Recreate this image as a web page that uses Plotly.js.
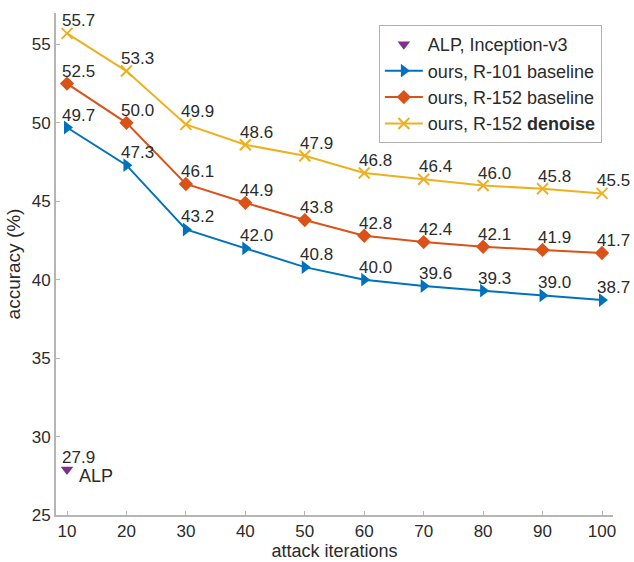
<!DOCTYPE html>
<html><head><meta charset="utf-8">
<script src="https://cdn.plot.ly/plotly-3.0.1.min.js"></script>
<style>body{margin:0;padding:0;background:#fff}#chart{width:634px;height:562px}</style>
</head><body><div id="chart"></div>
<script>
const iterations = [10, 20, 30, 40, 50, 60, 70, 80, 90, 100];
const r101Baseline = [49.7, 47.3, 43.2, 42.0, 40.8, 40.0, 39.6, 39.3, 39.0, 38.7];
const r152Baseline = [52.5, 50.0, 46.1, 44.9, 43.8, 42.8, 42.4, 42.1, 41.9, 41.7];
const r152Denoise = [55.7, 53.3, 49.9, 48.6, 47.9, 46.8, 46.4, 46.0, 45.8, 45.5];
const alpX = [10];
const alpY = [27.9];
const xTicks = [10, 20, 30, 40, 50, 60, 70, 80, 90, 100];
const yTicks = [25, 30, 35, 40, 45, 50, 55];

const FONT = 'Liberation Sans, Arial, sans-serif';
const TXT = '#2b2b2b';

const traces = [
  {x: alpX, y: alpY, mode: 'markers', name: 'ALP, Inception-v3',
   marker: {symbol: 'triangle-down', color: '#7E2F8E', size: 11}},
  {x: iterations, y: r101Baseline, mode: 'lines+markers', name: 'ours, R-101 baseline',
   line: {color: '#0072BD', width: 2}, marker: {symbol: 'triangle-right', color: '#0072BD', size: 12}},
  {x: iterations, y: r152Baseline, mode: 'lines+markers', name: 'ours, R-152 baseline',
   line: {color: '#D95319', width: 2}, marker: {symbol: 'diamond', color: '#D95319', size: 11}},
  {x: iterations, y: r152Denoise, mode: 'lines+markers', name: 'ours, R-152 <b>denoise</b>',
   line: {color: '#EDB120', width: 2}, marker: {symbol: 'x-thin-open', color: '#EDB120', size: 11, line: {color: '#EDB120', width: 2}}}
];

const annotations = [];
function addLabels(xs, ys) {
  xs.forEach((x, i) => annotations.push({
    x: x, y: ys[i], text: ys[i].toFixed(1), showarrow: false,
    xanchor: 'left', yanchor: 'bottom', xshift: -7, yshift: 1,
    font: {family: FONT, size: 17, color: TXT}
  }));
}
addLabels(iterations, r101Baseline);
addLabels(iterations, r152Baseline);
addLabels(iterations, r152Denoise);
addLabels(alpX, alpY);
annotations.push({x: alpX[0], y: alpY[0], text: 'ALP', showarrow: false,
  xanchor: 'left', yanchor: 'middle', xshift: 10, yshift: -6,
  font: {family: FONT, size: 18, color: TXT}});

const layout = {
  width: 634, height: 562,
  margin: {l: 56, r: 21, t: 13, b: 47},
  paper_bgcolor: '#fff', plot_bgcolor: '#fff',
  font: {family: FONT, size: 17, color: TXT},
  showlegend: true,
  legend: {x: 0.98, y: 0.976, xanchor: 'right', yanchor: 'top',
    bordercolor: '#b0b0b0', borderwidth: 1, bgcolor: '#fff',
    font: {family: FONT, size: 18, color: TXT}, tracegroupgap: 0, itemwidth: 38},
  xaxis: {range: [8.15, 101.85], tickvals: xTicks, ticktext: xTicks.map(String),
    showline: true, linecolor: '#b5b5b5', linewidth: 2, ticks: 'inside', ticklen: 4, tickcolor: '#b5b5b5',
    showgrid: false, zeroline: false, tickfont: {size: 17, color: TXT},
    title: {text: 'attack iterations', font: {size: 18, color: TXT}, standoff: 4}},
  yaxis: {range: [25, 57], tickvals: yTicks, ticktext: yTicks.map(String),
    showline: true, linecolor: '#b5b5b5', linewidth: 2, ticks: 'inside', ticklen: 4, tickcolor: '#b5b5b5',
    showgrid: false, zeroline: false, tickfont: {size: 17, color: TXT},
    title: {text: 'accuracy (%)', font: {size: 19, color: TXT}, standoff: 6}},
  annotations: annotations
};

Plotly.newPlot('chart', traces, layout, {displayModeBar: false, staticPlot: true});
</script>
</body></html>
